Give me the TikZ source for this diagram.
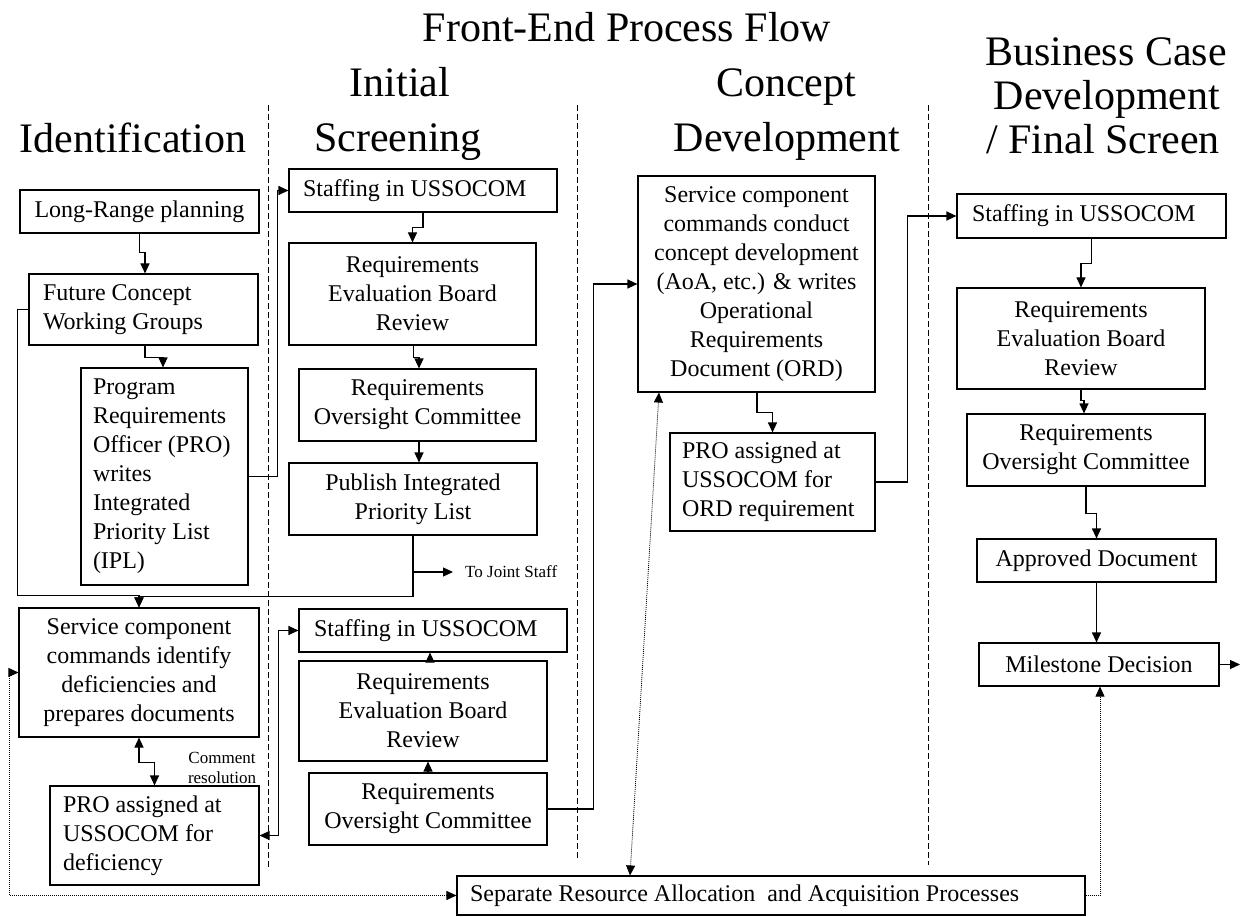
\documentclass[tikz,border=0pt]{standalone}
\usepackage{fontspec}
\setmainfont{Liberation Serif}
\usetikzlibrary{arrows.meta}
\begin{document}
\begin{tikzpicture}[x=1pt,y=-1pt,
  box/.style={draw, line width=1.1pt, inner sep=0pt, font=\fontsize{24}{29}\selectfont, align=center,
    execute at begin node={\spaceskip=0pt\relax\xspaceskip=0pt\relax}},
  lbox/.style={box, align=left},
  head/.style={font=\fontsize{42}{50}\selectfont, inner sep=0pt, anchor=base},
  small/.style={font=\fontsize{17}{20}\selectfont, inner sep=0pt, align=center},
  arr/.style={line width=1.1pt, -{Triangle[length=10pt,width=9pt]}},
  darr/.style={line width=1.1pt, {Triangle[length=10pt,width=9pt]}-{Triangle[length=10pt,width=9pt]}},
  sepline/.style={line width=0.9pt, dash pattern=on 6pt off 3pt},
  ddot/.style={line width=0.8pt, dash pattern=on 1pt off 1pt, {Triangle[length=10pt,width=9pt]}-{Triangle[length=10pt,width=9pt]}},
  dotarr/.style={line width=0.8pt, dash pattern=on 1pt off 1pt, -{Triangle[length=10pt,width=9pt]}}]
\useasboundingbox (0,0) rectangle (1242,917);

% headings
\node[head] (title) at (627,42) {Front-End Process Flow};
\node[head] (init) at (400,97) {Initial};
\node[head] (scr) at (398,152) {Screening};
\node[head] (ident) at (133,153) {Identification};
\node[head] (conc) at (786,97) {Concept};
\node[head] (dev) at (787,152) {Development};
\node[head] (bc1) at (1106,66) {Business Case};
\node[head] (bc2) at (1107,110) {Development};
\node[head] (bc3) at (1103,154) {/ Final Screen};

% column separators
\draw[sepline] (268,105) -- (268,868);
\draw[sepline] (577,105) -- (577,860);
\draw[sepline] (928,105) -- (928,865);

% identification column
\node[box, minimum width=239pt, minimum height=43pt] (lr) at (139.5,211.5) {Long-Range planning};
\node[lbox, text width=201pt, inner xsep=14pt, minimum height=71pt] (fcwg) at (143.5,309.5) {Future Concept\\Working Groups};
\node[lbox, text width=143pt, inner xsep=12pt, minimum height=217pt] (proipl) at (164.5,476.5) {Program\\Requirements\\Officer (PRO)\\writes\\Integrated\\Priority List\\(IPL)};
\node[box, minimum width=240pt, minimum height=129pt] (sc) at (139,672.5) {Service component\\commands identify\\deficiencies and\\prepares documents};
\node[lbox, text width=183pt, inner xsep=13pt, minimum height=99pt] (prodef) at (154.5,835.5) {PRO assigned at\\USSOCOM for\\deficiency};

% initial screening column
\node[lbox, text width=240pt, inner xsep=14pt, minimum height=43pt] (st1) at (423,190.5) {Staffing in USSOCOM};
\node[box, minimum width=247pt, minimum height=102pt] (reb1) at (412.5,294) {Requirements\\Evaluation Board\\Review};
\node[box, minimum width=237pt, minimum height=72pt] (roc1) at (417.5,405) {Requirements\\Oversight Committee};
\node[box, minimum width=248pt, minimum height=72pt] (pub) at (413,499) {Publish Integrated\\Priority List};
\node[small, anchor=west] (tojs) at (465,572) {To Joint Staff};

\node[lbox, text width=238pt, inner xsep=15pt, minimum height=43pt] (st2) at (433,630.5) {Staffing in USSOCOM};
\node[box, minimum width=248pt, minimum height=100pt] (reb2) at (423,711) {Requirements\\Evaluation Board\\Review};
\node[box, minimum width=238pt, minimum height=72pt] (roc2) at (428,809) {Requirements\\Oversight Committee};

% concept development column
\node[box, minimum width=237pt, minimum height=216pt] (cd) at (756.5,284) {Service component\\commands conduct\\concept development\\(AoA, etc.) \& writes\\Operational\\Requirements\\Document (ORD)};
\node[lbox, text width=181pt, inner xsep=12pt, minimum height=98pt] (proord) at (772.5,482) {PRO assigned at\\USSOCOM for\\ORD requirement};

% business case column
\node[lbox, text width=239pt, inner xsep=15pt, minimum height=44pt] (st3) at (1091.5,216) {Staffing in USSOCOM};
\node[box, minimum width=248pt, minimum height=101pt] (reb3) at (1081,338.5) {Requirements\\Evaluation Board\\Review};
\node[box, minimum width=238pt, minimum height=72pt] (roc3) at (1086,450) {Requirements\\Oversight Committee};
\node[box, minimum width=239pt, minimum height=43pt] (appr) at (1096.5,560.5) {Approved Document};
\node[box, minimum width=240pt, minimum height=43pt] (ms) at (1099,664.5) {Milestone Decision};
\coordinate (msout) at (1240,664.5);

% bottom box
\node[lbox, text width=602pt, inner xsep=13pt, minimum height=39pt] (sep) at (771,895.5) {Separate Resource Allocation~ and Acquisition Processes};

% comment resolution label
\node[small] (cr) at (222,768) {Comment\\resolution};

% connectors
\draw[arr] (lr.south) -- ++(0,19) -| ([xshift=1.5pt]fcwg.north);
\draw[arr] ([xshift=1.5pt]fcwg.south) -- ++(0,12) -| ([xshift=-1.5pt]proipl.north);
\draw[arr] (proipl.east) -- ++(29,0) |- (st1.west);
\draw[arr] (st1.south) -- ++(0,15) -| (reb1.north);
\draw[arr] ([xshift=1pt]reb1.south) -- ++(0,12) -| ([xshift=1.5pt]roc1.north);
\draw[arr] ([xshift=1.5pt]roc1.south) -- ([xshift=1.5pt]roc1.south |- pub.north);
\draw[arr] (pub.south) -- ++(0,61) -| (sc.north);
\draw[arr] (pub.south |- tojs.west) -- ([xshift=-12pt]tojs.west);
\draw[arr] (fcwg.west) -- ++(-11,0) |- ([yshift=12pt]sc.north) -- (sc.north);
\draw[darr] (sc.south) -- ++(0,25) -| (prodef.north);
\draw[darr] (st2.west) -- ++(-20,0) |- (prodef.east);
\draw[arr] ([xshift=7pt]reb2.north) -- ([xshift=7pt]reb2.north |- st2.south);
\draw[arr] (roc2.north) -- (roc2.north |- reb2.south);
\draw[arr] (roc2.east) -- ++(46,0) |- (cd.west);
\draw[arr] ([xshift=0.5pt]cd.south) -- ++(0,20) -| (proord.north);
\draw[arr] (proord.east) -- ++(32,0) |- (st3.west);
\draw[arr] (st3.south) -- ++(0,25) -| (reb3.north);
\draw[arr] (reb3.south) -- ++(0,11) -| ([xshift=-2pt]roc3.north);
\draw[arr] (roc3.south) -- ++(0,27) -| (appr.north);
\draw[arr] (appr.south) -- (appr.south |- ms.north);
\draw[arr] (ms.east) -- (msout);

% dotted connectors
\draw[ddot] (sep.west) -| ([xshift=-9pt]sc.west) -- (sc.west);
\draw[ddot] ([xshift=-141pt]sep.north) -- ([xshift=-97.5pt]cd.south);
\draw[dotarr] (sep.east) -| ([xshift=1pt]ms.south);
\end{tikzpicture}
\end{document}
